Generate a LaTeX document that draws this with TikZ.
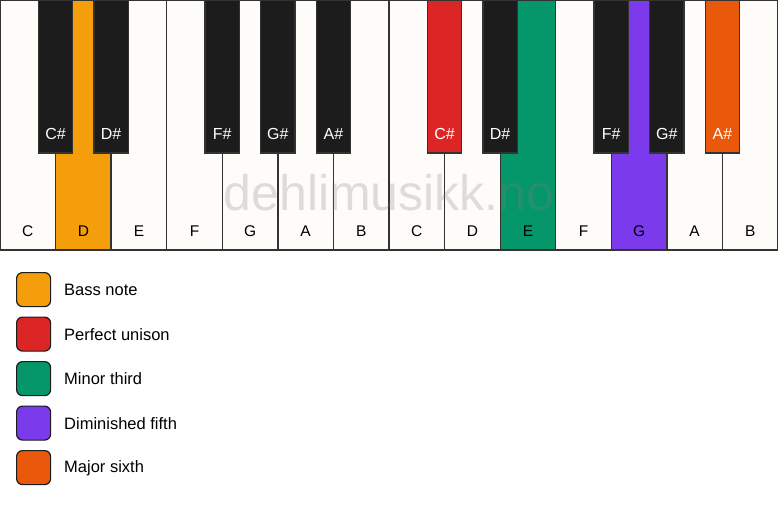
\documentclass[tikz,border=0pt]{standalone}
\usepackage{fontspec}
\setmainfont{Liberation Sans}
\definecolor{ivory}{HTML}{FDFCF9}
\definecolor{keyblack}{HTML}{1C1C1C}
\definecolor{edge}{HTML}{333333}
\definecolor{cbass}{HTML}{F59E0B}
\definecolor{cuni}{HTML}{DC2626}
\definecolor{cthird}{HTML}{059669}
\definecolor{cfifth}{HTML}{7C3AED}
\definecolor{csixth}{HTML}{EA580C}
\tikzset{
  whitekey/.style={draw=edge, line width=1.3pt, fill=ivory, minimum width=55.57pt, minimum height=250pt, anchor=north west, inner sep=0pt, outer sep=0pt},
  blackkey/.style={draw=edge, line width=1.3pt, fill=keyblack, minimum width=34.5pt, minimum height=153pt, anchor=north, inner sep=0pt, outer sep=0pt},
  wlabel/.style={font=\fontsize{15.5}{18}\selectfont, text=black, anchor=base},
  blabel/.style={font=\fontsize{16}{18}\selectfont, text=white, anchor=base},
  legbox/.style={draw=keyblack, line width=1.2pt, rounded corners=6pt, minimum width=34pt, minimum height=34pt, anchor=north west, inner sep=0pt},
  legtext/.style={font=\fontsize{16.5}{19}\selectfont, anchor=west, inner sep=0pt}
}
\begin{document}
\begin{tikzpicture}[x=1pt,y=-1pt]
\useasboundingbox (0,0) rectangle (778,506);
% white keys
\foreach \i/\n/\c in {0/C/ivory,1/D/cbass,2/E/ivory,3/F/ivory,4/G/ivory,5/A/ivory,6/B/ivory,7/C/ivory,8/D/ivory,9/E/cthird,10/F/ivory,11/G/cfifth,12/A/ivory,13/B/ivory}{
  \node[whitekey, fill=\c] (w\i) at ({\i*778/14},0) {};
}
% black keys
\foreach \b/\n/\c in {1/C\#/keyblack,2/D\#/keyblack,4/F\#/keyblack,5/G\#/keyblack,6/A\#/keyblack,8/C\#/cuni,9/D\#/keyblack,11/F\#/keyblack,12/G\#/keyblack,13/A\#/csixth}{
  \node[blackkey, fill=\c] (b\b) at ({\b*778/14},0) {};
}
% watermark
\node[font=\fontsize{50}{55}\selectfont, text=gray, text opacity=0.25, anchor=base] (wm) at (389,210) {dehlimusikk.no};
% white labels
\foreach \i/\n in {0/C,1/D,2/E,3/F,4/G,5/A,6/B,7/C,8/D,9/E,10/F,11/G,12/A,13/B}{
  \node[wlabel] (wl\i) at ({(\i+0.5)*778/14},236) {\n};
}
% black labels
\foreach \b/\n in {1/C\#,2/D\#,4/F\#,5/G\#,6/A\#,8/C\#,9/D\#,11/F\#,12/G\#,13/A\#}{
  \node[blabel] (bl\b) at ({\b*778/14},139) {\n};
}
% legend
\foreach \k/\c/\t in {0/cbass/Bass note,1/cuni/Perfect unison,2/cthird/Minor third,3/cfifth/Diminished fifth,4/csixth/Major sixth}{
  \node[legbox, fill=\c] (lg\k) at (16,{272+\k*44.5}) {};
  \node[legtext] (lt\k) at (64,{290+\k*44.5}) {\t};
}
\end{tikzpicture}
\end{document}
